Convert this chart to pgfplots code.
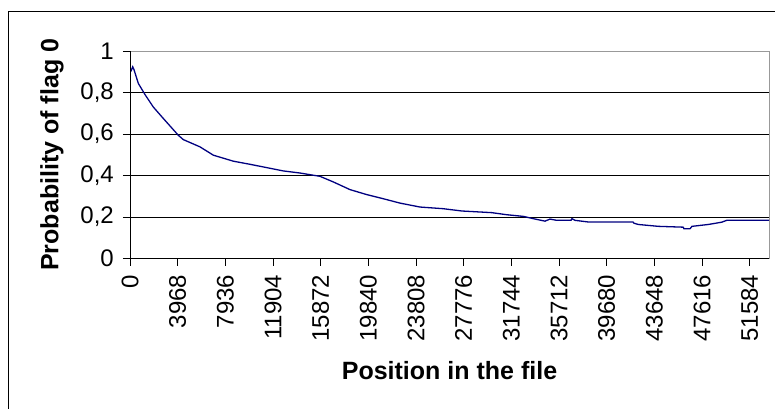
\documentclass[border=0pt]{standalone}
\usepackage{pgfplots}
\pgfplotsset{compat=1.18}
\usepackage{fontspec}
\setmainfont{Liberation Sans}
\definecolor{navyline}{RGB}{0,0,128}
\begin{document}
\begin{tikzpicture}[x=1pt,y=1pt]
\useasboundingbox (0,0) rectangle (775,408);
\draw[line width=1pt] (8.5,-5) -- (8.5,396.5) -- (780,396.5);
\begin{axis}[
  at={(130pt,149.5pt)}, anchor=south west, scale only axis,
  width=639pt, height=207.5pt,
  xmin=0, xmax=53190, ymin=0, ymax=1,
  scaled x ticks=false,
  xtick={0,3968,7936,11904,15872,19840,23808,27776,31744,35712,39680,43648,47616,51584},
  xticklabels={0,3968,7936,11904,15872,19840,23808,27776,31744,35712,39680,43648,47616,51584},
  ytick={0,0.2,0.4,0.6,0.8,1},
  yticklabels={0,{0,2},{0,4},{0,6},{0,8},1},
  ymajorgrids, grid style={black, line width=0.9pt},
  tick pos=left,
  tick align=outside, major tick length=7pt,
  tick style={black, line width=0.9pt},
  axis line style={draw=gray!80, line width=1pt},
  tick label style={font=\fontsize{24}{28}\selectfont, inner sep=0pt},
  x tick label style={rotate=90, anchor=east},
  xticklabel shift={9pt},
  yticklabel shift={9pt},
  xlabel={\bfseries Position in the file},
  ylabel={\bfseries Probability of flag 0},
  label style={font=\fontsize{25}{30}\selectfont},
  x label style={at={(axis description cs:0.5,-0.54)}, anchor=center},
  y label style={at={(axis description cs:-0.122,0.5)}, anchor=center},
  clip=false,
]
\addplot[color=navyline, line width=1.3pt] table {
x y
58 0.90
225 0.924
333 0.91
691 0.844
1249 0.79
1940 0.73
2772 0.675
4020 0.594
4437 0.573
5827 0.538
6934 0.498
8599 0.469
9989 0.454
11379 0.438
12761 0.422
14151 0.412
15816 0.396
16923 0.369
18313 0.332
19703 0.308
21085 0.288
22475 0.267
24140 0.248
26080 0.240
27611 0.229
30109 0.221
31357 0.211
32739 0.203
33570 0.192
34545 0.180
34960 0.190
35518 0.184
36708 0.184
36790 0.192
37040 0.184
38150 0.176
41870 0.176
41950 0.170
42310 0.164
43975 0.155
46057 0.151
46110 0.143
46610 0.143
46780 0.155
48137 0.164
49253 0.175
49670 0.184
53190 0.184
};
\draw[black, line width=1pt] (rel axis cs:0,1) -- (rel axis cs:0,0) -- (rel axis cs:1,0);
\end{axis}
\end{tikzpicture}
\end{document}
